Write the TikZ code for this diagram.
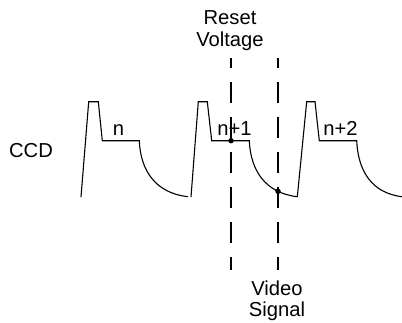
\documentclass[tikz,border=0pt]{standalone}
\usepackage{fontspec}
\setmainfont{Liberation Sans}
\usetikzlibrary{intersections}
\begin{document}
\begin{tikzpicture}[x=1pt,y=-1pt,
  wave/.style={line width=1.1pt,line join=miter},
  vline/.style={line width=1.8pt,dash pattern=on 21pt off 14pt,dash phase=11pt},
  lbl/.style={inner sep=0pt,font=\fontsize{20.2}{21.5}\selectfont},
  dot/.style={circle,fill=black,inner sep=0pt,minimum size=5.5pt}]
\useasboundingbox (0,0) rectangle (402,322);
% waveform 1
\draw[wave] (81,197) -- (88.7,101.7) -- (98.3,101.7) -- (102.3,140.7) -- (139.3,140.7)
  .. controls (140.5,170) and (155,193) .. (188,196.7);
% waveform 2
\draw[wave,name path=curveB] (191,197) -- (198.3,101.7) -- (207.3,101.7) -- (211.7,140.7) -- (249.3,140.7)
  .. controls (250.5,170) and (265,193) .. (297.3,196.7);
% waveform 3
\draw[wave] (297.3,197) -- (306.7,101.7) -- (315,101.7) -- (319.3,140.7) -- (356.7,140.7)
  .. controls (358,170) and (371,193) .. (402,196.7);
% labels
\node[lbl,anchor=base] (n0) at (118.5,135) {n};
\node[lbl,anchor=base] (n1) at (234.5,135) {n+1};
\node[lbl,anchor=base] (n2) at (340.5,135) {n+2};
\node[lbl,anchor=base] (ccd) at (31,157.3) {CCD};
\node[lbl,align=center,anchor=base] (reset) at (230,46) {Reset\\Voltage};
\node[lbl,align=center,anchor=base] (video) at (277,316.5) {Video\\Signal};
% dashed lines
\coordinate (rtop) at (231,58);
\coordinate (rbot) at (231,270);
\coordinate (vtop) at (278,58);
\coordinate (vbot) at (278,270);
\draw[vline] (rtop) -- (rbot);
\draw[vline,name path=vl] (vtop) -- (vbot);
\path[name intersections={of=curveB and vl,by=vx}];
\node[dot] (dr) at (231,140.7) {};
\node[dot] (dv) at (vx) {};
\end{tikzpicture}
\end{document}
